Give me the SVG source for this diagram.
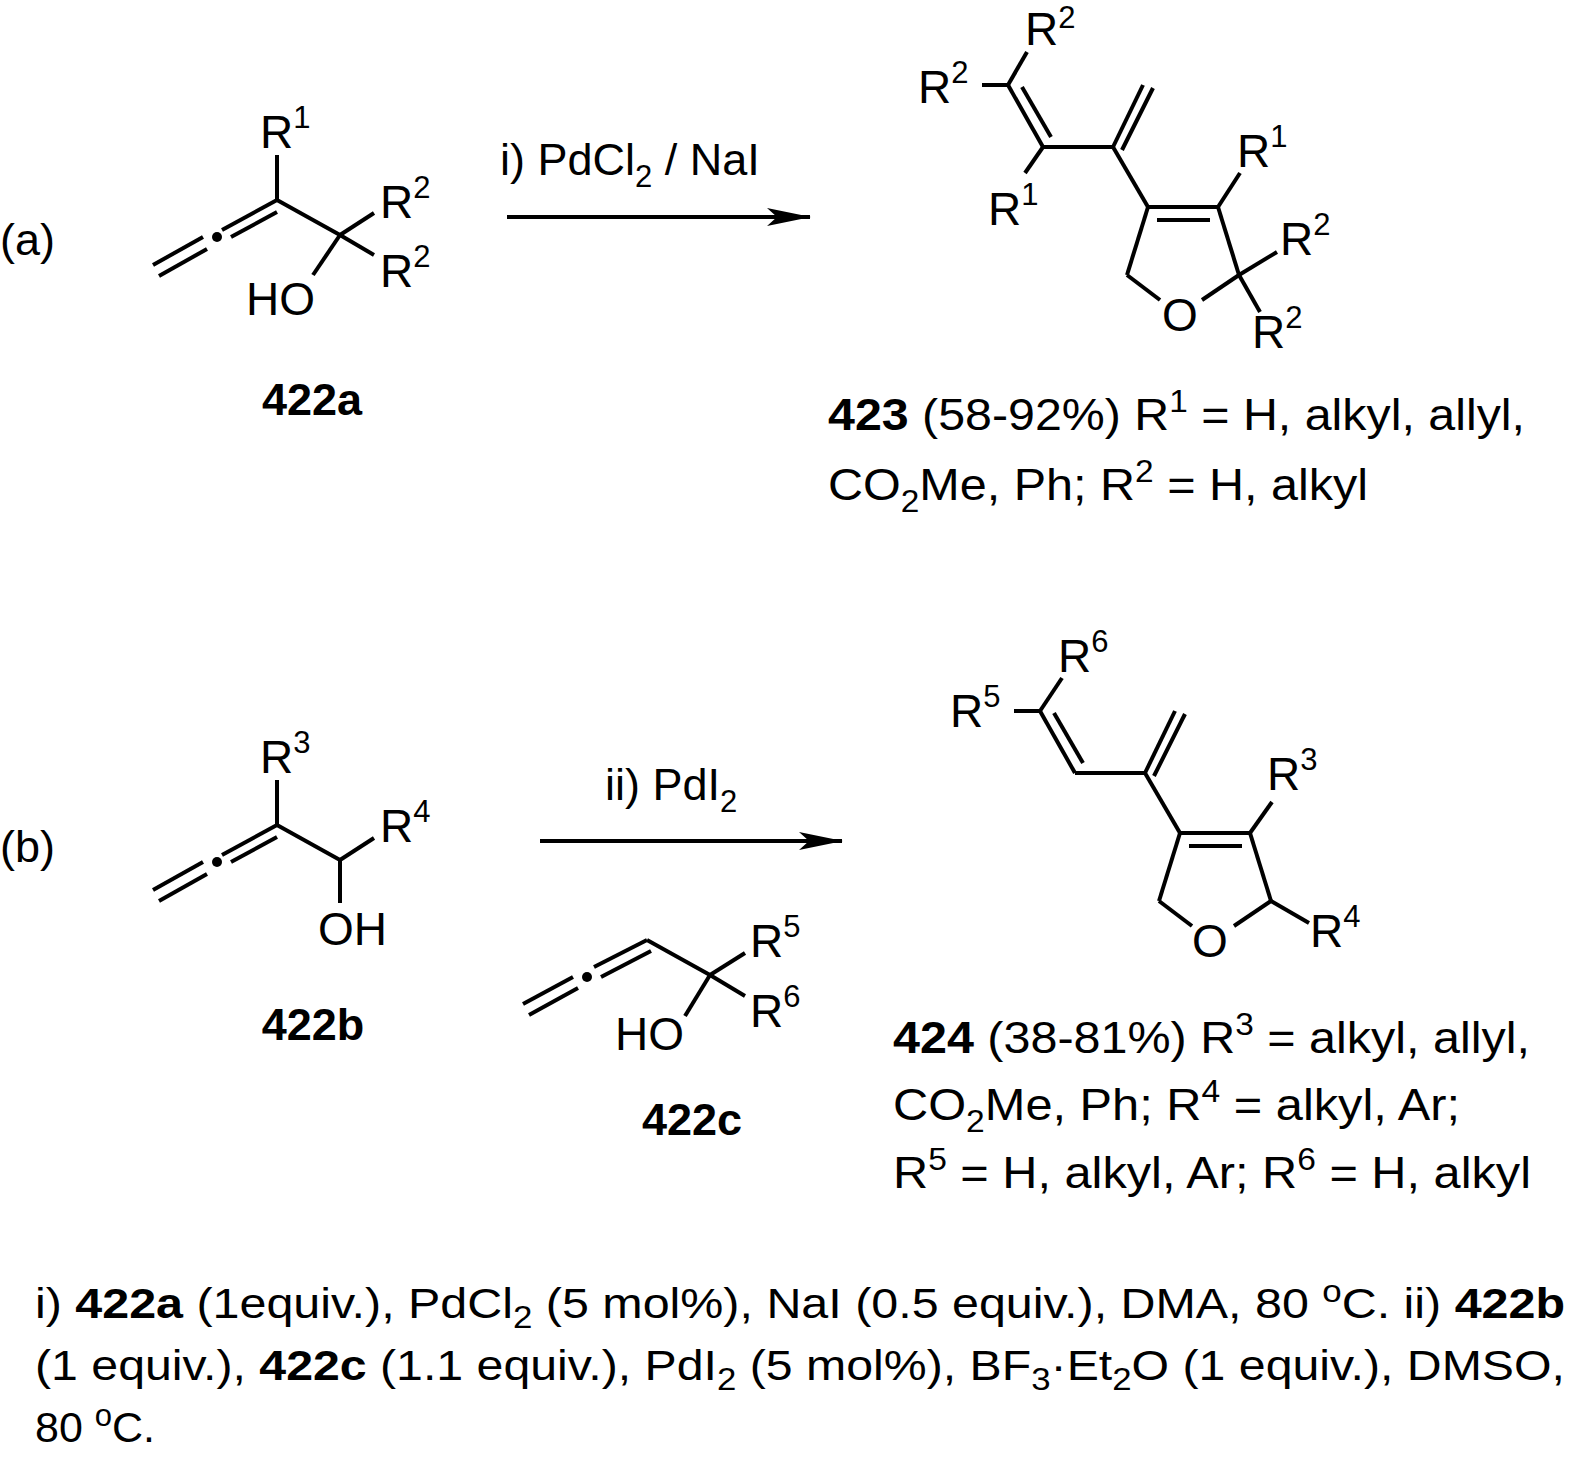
<svg xmlns="http://www.w3.org/2000/svg" width="1575" height="1474" viewBox="0 0 1575 1474">
<style>
text{font-family:"Liberation Sans",Arial,sans-serif;font-size:46px;fill:#000}
.b{font-weight:bold}
.s{font-size:31px}
.d{font-size:45px}
.f{font-size:43px}
line,polyline{stroke:#000;stroke-width:4;fill:none}
</style>
<defs>
<marker id="ah" markerWidth="44" markerHeight="18" refX="43" refY="9" orient="auto" markerUnits="userSpaceOnUse" viewBox="0 0 44 18"><path d="M0,0 L44,9 L0,18 L10,9 z" fill="#000"/></marker>
</defs>
<rect width="1575" height="1474" fill="#fff"/>
<text class="d" x="0" y="255">(a)</text>
<text class="d" x="0" y="862">(b)</text>
<g id="arrows">
<line x1="507" y1="217" x2="810" y2="217" marker-end="url(#ah)" stroke-width="3"/>
<line x1="540" y1="841" x2="842" y2="841" marker-end="url(#ah)" stroke-width="3"/>
</g>
<text class="d" x="500" y="175">i) PdCl<tspan class="s" dy="12">2</tspan><tspan dy="-12"> / NaI</tspan></text>
<text class="d" x="605" y="800">ii) PdI<tspan class="s" dy="12">2</tspan></text>
<g id="m422a">
<line x1="277" y1="155" x2="277" y2="200"/>
<line x1="277" y1="200" x2="222" y2="230"/>
<line x1="277" y1="212" x2="231" y2="237"/>
<circle cx="217" cy="237" r="5"/>
<line x1="153" y1="265" x2="203" y2="237"/>
<line x1="159" y1="276" x2="207" y2="249"/>
<line x1="277" y1="200" x2="340" y2="235"/>
<line x1="340" y1="235" x2="374" y2="213"/>
<line x1="340" y1="235" x2="374" y2="255"/>
<line x1="340" y1="235" x2="313" y2="275"/>
<text x="260" y="148">R<tspan class="s" dy="-20">1</tspan></text>
<text x="380" y="218">R<tspan class="s" dy="-20">2</tspan></text>
<text x="380" y="287">R<tspan class="s" dy="-20">2</tspan></text>
<text x="246" y="315">HO</text>
<text class="b d" x="312" y="415" text-anchor="middle">422a</text>
</g>
<g id="m423">
<line x1="1027" y1="52" x2="1008" y2="85"/>
<line x1="982" y1="85" x2="1008" y2="85"/>
<line x1="1008" y1="85" x2="1043" y2="147"/>
<line x1="1022" y1="87" x2="1051" y2="137"/>
<line x1="1043" y1="147" x2="1025" y2="173"/>
<line x1="1043" y1="147" x2="1113" y2="147"/>
<line x1="1113" y1="147" x2="1143" y2="85"/>
<line x1="1122" y1="150" x2="1153" y2="88"/>
<line x1="1113" y1="147" x2="1148" y2="207"/>
<line x1="1148" y1="207" x2="1218" y2="207"/>
<line x1="1157" y1="220" x2="1210" y2="220"/>
<line x1="1218" y1="207" x2="1240" y2="173"/>
<line x1="1218" y1="207" x2="1239" y2="275"/>
<line x1="1239" y1="275" x2="1277" y2="252"/>
<line x1="1239" y1="275" x2="1260" y2="312"/>
<line x1="1239" y1="275" x2="1202" y2="300"/>
<line x1="1148" y1="207" x2="1127" y2="275"/>
<line x1="1127" y1="275" x2="1160" y2="300"/>
<text x="1025" y="45">R<tspan class="s" dy="-17">2</tspan></text>
<text x="918" y="103">R<tspan class="s" dy="-20">2</tspan></text>
<text x="988" y="225">R<tspan class="s" dy="-20">1</tspan></text>
<text x="1237" y="167">R<tspan class="s" dy="-20">1</tspan></text>
<text x="1280" y="255">R<tspan class="s" dy="-20">2</tspan></text>
<text x="1252" y="348">R<tspan class="s" dy="-20">2</tspan></text>
<text x="1180" y="331" text-anchor="middle">O</text>
<text class="d" x="828" y="430" textLength="697" lengthAdjust="spacingAndGlyphs"><tspan class="b">423</tspan> (58-92%) R<tspan class="s" dy="-18">1</tspan><tspan dy="18"> = H, alkyl, allyl,</tspan></text>
<text class="d" x="828" y="500" textLength="540" lengthAdjust="spacingAndGlyphs">CO<tspan class="s" dy="12">2</tspan><tspan dy="-12">Me, Ph; R</tspan><tspan class="s" dy="-18">2</tspan><tspan dy="18"> = H, alkyl</tspan></text>
</g>
<g id="m422b">
<line x1="277" y1="780" x2="277" y2="825"/>
<line x1="277" y1="825" x2="222" y2="855"/>
<line x1="277" y1="837" x2="231" y2="862"/>
<circle cx="217" cy="862" r="5"/>
<line x1="153" y1="890" x2="203" y2="862"/>
<line x1="159" y1="901" x2="207" y2="874"/>
<line x1="277" y1="825" x2="340" y2="860"/>
<line x1="340" y1="860" x2="374" y2="838"/>
<line x1="340" y1="860" x2="340" y2="903"/>
<text x="260" y="773">R<tspan class="s" dy="-20">3</tspan></text>
<text x="380" y="842">R<tspan class="s" dy="-20">4</tspan></text>
<text x="318" y="945">OH</text>
<text class="b d" x="313" y="1040" text-anchor="middle">422b</text>
</g>
<g id="m422c">
<line x1="647" y1="940" x2="594" y2="967"/>
<line x1="651" y1="951" x2="601" y2="977"/>
<circle cx="587" cy="977" r="5"/>
<line x1="523" y1="1004" x2="573" y2="977"/>
<line x1="529" y1="1015" x2="578" y2="988"/>
<line x1="647" y1="940" x2="710" y2="975"/>
<line x1="710" y1="975" x2="745" y2="953"/>
<line x1="710" y1="975" x2="745" y2="996"/>
<line x1="710" y1="975" x2="685" y2="1016"/>
<text x="750" y="957">R<tspan class="s" dy="-20">5</tspan></text>
<text x="750" y="1027">R<tspan class="s" dy="-20">6</tspan></text>
<text x="615" y="1050">HO</text>
<text class="b d" x="692" y="1135" text-anchor="middle">422c</text>
</g>
<g id="m424">
<g transform="translate(32,626)">
<line x1="1030" y1="52" x2="1008" y2="85"/>
<line x1="982" y1="85" x2="1008" y2="85"/>
<line x1="1008" y1="85" x2="1043" y2="147"/>
<line x1="1022" y1="87" x2="1051" y2="137"/>
<line x1="1043" y1="147" x2="1113" y2="147"/>
<line x1="1113" y1="147" x2="1143" y2="85"/>
<line x1="1122" y1="150" x2="1153" y2="88"/>
<line x1="1113" y1="147" x2="1148" y2="207"/>
<line x1="1148" y1="207" x2="1218" y2="207"/>
<line x1="1157" y1="220" x2="1210" y2="220"/>
<line x1="1218" y1="207" x2="1240" y2="176"/>
<line x1="1218" y1="207" x2="1239" y2="275"/>
<line x1="1239" y1="275" x2="1277" y2="297"/>
<line x1="1239" y1="275" x2="1202" y2="300"/>
<line x1="1148" y1="207" x2="1127" y2="275"/>
<line x1="1127" y1="275" x2="1160" y2="300"/>
</g>
<text x="1058" y="672">R<tspan class="s" dy="-20">6</tspan></text>
<text x="950" y="727">R<tspan class="s" dy="-20">5</tspan></text>
<text x="1267" y="790">R<tspan class="s" dy="-20">3</tspan></text>
<text x="1310" y="947">R<tspan class="s" dy="-20">4</tspan></text>
<text x="1210" y="957" text-anchor="middle">O</text>
<text class="d" x="893" y="1053" textLength="637" lengthAdjust="spacingAndGlyphs"><tspan class="b">424</tspan> (38-81%) R<tspan class="s" dy="-18">3</tspan><tspan dy="18"> = alkyl, allyl,</tspan></text>
<text class="d" x="893" y="1120" textLength="567" lengthAdjust="spacingAndGlyphs">CO<tspan class="s" dy="12">2</tspan><tspan dy="-12">Me, Ph; R</tspan><tspan class="s" dy="-18">4</tspan><tspan dy="18"> = alkyl, Ar;</tspan></text>
<text class="d" x="893" y="1188" textLength="638" lengthAdjust="spacingAndGlyphs">R<tspan class="s" dy="-18">5</tspan><tspan dy="18"> = H, alkyl, Ar; R</tspan><tspan class="s" dy="-18">6</tspan><tspan dy="18"> = H, alkyl</tspan></text>
</g>
<g id="footnote">
<text class="f" x="35" y="1318" textLength="1530" lengthAdjust="spacingAndGlyphs">i) <tspan class="b">422a</tspan> (1equiv.), PdCl<tspan class="s" dy="10">2</tspan><tspan dy="-10"> (5 mol%), NaI (0.5 equiv.), DMA, 80 </tspan><tspan class="s" dy="-16">o</tspan><tspan dy="16">C. ii) </tspan><tspan class="b">422b</tspan></text>
<text class="f" x="35" y="1380" textLength="1530" lengthAdjust="spacingAndGlyphs">(1 equiv.), <tspan class="b">422c</tspan> (1.1 equiv.), PdI<tspan class="s" dy="10">2</tspan><tspan dy="-10"> (5 mol%), BF</tspan><tspan class="s" dy="10">3</tspan><tspan dy="-10">·Et</tspan><tspan class="s" dy="10">2</tspan><tspan dy="-10">O (1 equiv.), DMSO,</tspan></text>
<text class="f" x="35" y="1442">80 <tspan class="s" dy="-16">o</tspan><tspan dy="16">C.</tspan></text>
</g>
</svg>
